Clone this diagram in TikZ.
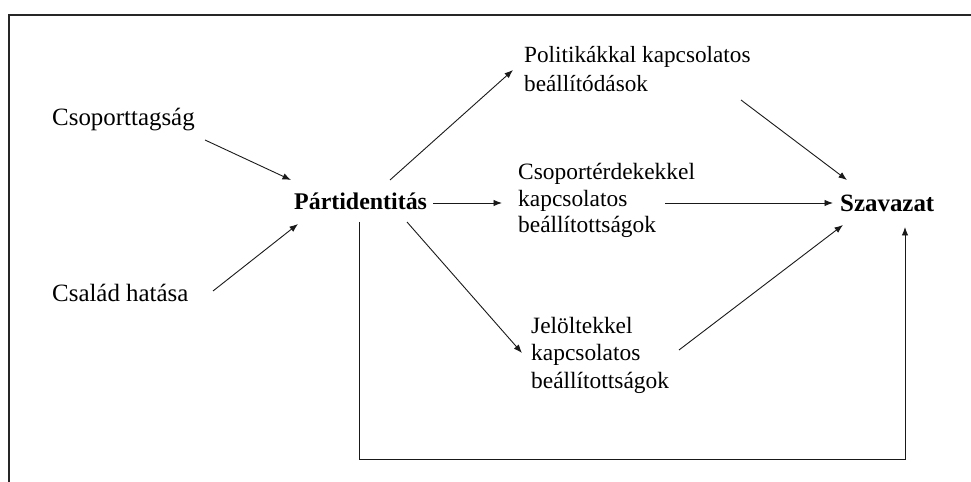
\documentclass[tikz,border=0pt]{standalone}
\usepackage{fontspec}
\setmainfont{Liberation Serif}
\usetikzlibrary{calc,arrows.meta}
\begin{document}
\begin{tikzpicture}[x=1bp,y=-1bp,
  lbl/.style={inner sep=0pt,anchor=base west,align=left,font=\fontsize{23.5}{27}\selectfont},
  biglbl/.style={inner sep=0pt,anchor=base west,font=\fontsize{25}{28}\selectfont},
  blbl/.style={inner sep=0pt,anchor=base west,font=\fontsize{24}{28}\selectfont\bfseries},
  arr/.style={draw=black!90,line width=0.9bp,-{Latex[length=8.5bp,width=6.5bp]}},
  frame/.style={draw=black!85,line width=1.5bp}]
\useasboundingbox (0,0) rectangle (971,482);
\draw[frame] (9,482) -- (9,15) -- (971,15);
\node[biglbl] (cs) at (52,126) {Csoporttagság};
\node[biglbl] (ch) at (52,302) {Család hatása};
\node[blbl] (pid) at (294,210) {Pártidentitás};
\node[lbl,font=\fontsize{23.3}{30}\selectfont] (pol) at (524,92) {Politikákkal kapcsolatos\\beállítódások};
\node[lbl] (cse) at (518,233) {Csoportérdekekkel\\kapcsolatos\\beállítottságok};
\node[lbl,font=\fontsize{23.5}{27.5}\selectfont] (jel) at (531,388) {Jelöltekkel\\kapcsolatos\\beállítottságok};
\node[blbl,font=\fontsize{25}{28}\selectfont\bfseries] (sz) at (840,212) {Szavazat};
\draw[arr] ($(cs.base west)+(153,14)$) -- ($(pid.base west)+(-3,-30)$);
\draw[arr] ($(ch.base west)+(161,-11)$) -- ($(pid.base west)+(4,14)$);
\draw[arr] ($(pid.base west)+(139,-7)$) -- ($(cse.base west)+(-16,-30)$);
\draw[arr] ($(pid.base west)+(96,-30)$) -- ($(pol.base west)+(-11,-22)$);
\draw[arr] ($(pid.base west)+(113,12)$) -- ($(jel.base west)+(-9,-35)$);
\draw[arr] ($(pol.base west)+(217,8)$) -- ($(sz.base west)+(7,-32)$);
\draw[arr] ($(cse.base west)+(147,-30)$) -- ($(sz.base west)+(-7,-9)$);
\draw[arr] ($(jel.base west)+(148,-38)$) -- ($(sz.base west)+(3,13)$);
\draw[arr] ($(pid.base west)+(65,12)$) -- ++(0,237) -| ($(sz.base west)+(65,15)$);
\end{tikzpicture}
\end{document}
